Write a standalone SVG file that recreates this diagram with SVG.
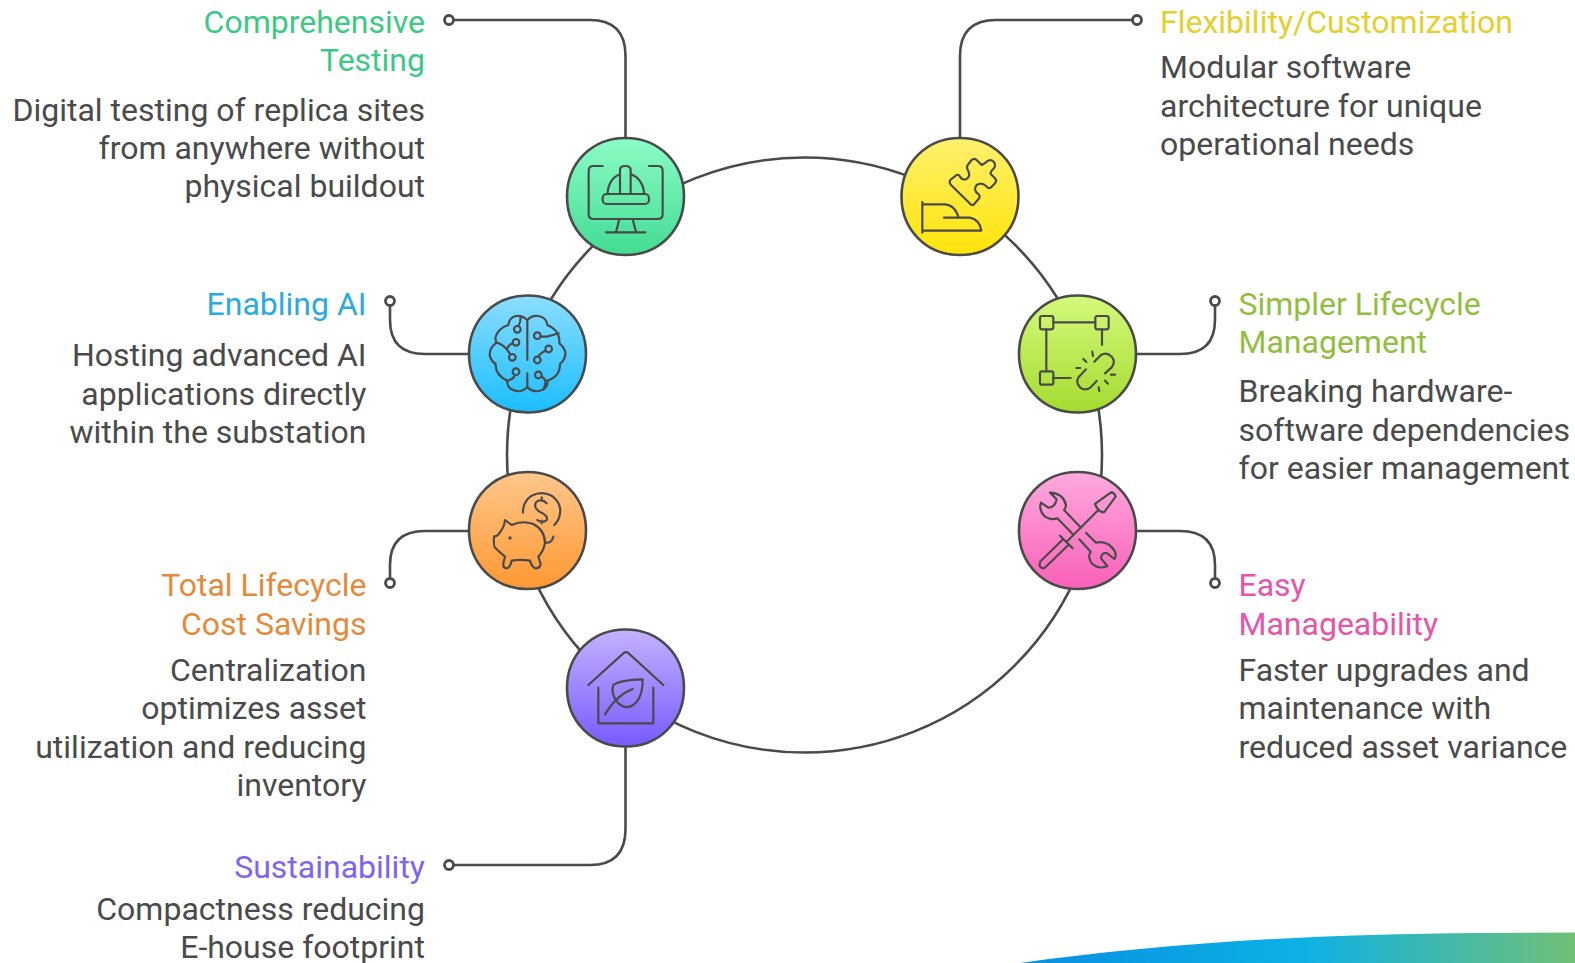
<svg xmlns="http://www.w3.org/2000/svg" width="1575" height="963" viewBox="0 0 1575 963">
<style>
text{font-family:Roboto,"Liberation Sans",sans-serif;font-size:32px;fill:#4a4a4a}
.e{text-anchor:end}
.c{fill:none;stroke:#4a4a4a;stroke-width:2.6}
.d{fill:#fff;stroke:#4a4a4a;stroke-width:2.8}
.n{stroke:#4a4a4a;stroke-width:2.6}
.i{fill:none;stroke:#4a4a4a;stroke-width:6.500;stroke-linecap:round;stroke-linejoin:round}
</style>
<defs>
<linearGradient id="g1" x1="0" y1="0" x2="0" y2="1"><stop offset="0" stop-color="#8cfcc6"/><stop offset="1" stop-color="#42dc92"/></linearGradient>
<linearGradient id="g2" x1="0" y1="0" x2="0" y2="1"><stop offset="0" stop-color="#fff06e"/><stop offset="1" stop-color="#ffe408"/></linearGradient>
<linearGradient id="g3" x1="0" y1="0" x2="0" y2="1"><stop offset="0" stop-color="#8cdeff"/><stop offset="1" stop-color="#1abdff"/></linearGradient>
<linearGradient id="g4" x1="0" y1="0" x2="0" y2="1"><stop offset="0" stop-color="#d4fa7c"/><stop offset="1" stop-color="#a5db30"/></linearGradient>
<linearGradient id="g5" x1="0" y1="0" x2="0" y2="1"><stop offset="0" stop-color="#ffc78c"/><stop offset="1" stop-color="#ff9832"/></linearGradient>
<linearGradient id="g6" x1="0" y1="0" x2="0" y2="1"><stop offset="0" stop-color="#ffaade"/><stop offset="1" stop-color="#f960b8"/></linearGradient>
<linearGradient id="g7" x1="0" y1="0" x2="0" y2="1"><stop offset="0" stop-color="#c4b2ff"/><stop offset="1" stop-color="#785aff"/></linearGradient>
<linearGradient id="sw" x1="0" y1="0" x2="1" y2="0"><stop offset="0" stop-color="#0a8fe0"/><stop offset=".5" stop-color="#0cb0e6"/><stop offset="1" stop-color="#70c076"/></linearGradient>
<path id="blob" d="M0-58.500C33.500-58.500 58.500-33.500 58.500 0S33.500 58.500 0 58.500-58.500 33.500-58.500 0-33.500-58.500 0-58.500Z"/>
</defs>
<rect width="1575" height="963" fill="#fff"/>
<path id="swoosh" d="M1020 963C1150 945 1300 934 1480 933L1575 932.500V963Z" fill="url(#sw)"/>
<g id="connectors">
<circle class="c" cx="804.500" cy="455" r="297.500"/>
<path class="c" d="M449 20H590Q625.500 20 625.500 56V137"/>
<path class="c" d="M1137 20H996Q960 20 960 56V137"/>
<path class="c" d="M390 301V320Q390 354 425 354H468"/>
<path class="c" d="M1215 301V320Q1215 354 1180 354H1137"/>
<path class="c" d="M390 583V565Q390 531 425 531H468"/>
<path class="c" d="M1215 583V565Q1215 531 1180 531H1137"/>
<path class="c" d="M449 865H590Q625.500 865 625.500 829V747"/>
<circle class="d" cx="449" cy="20" r="4.500"/>
<circle class="d" cx="1137" cy="20" r="4.500"/>
<circle class="d" cx="390" cy="301" r="4.500"/>
<circle class="d" cx="1215" cy="301" r="4.500"/>
<circle class="d" cx="390" cy="583" r="4.500"/>
<circle class="d" cx="1215" cy="583" r="4.500"/>
<circle class="d" cx="449" cy="865" r="4.500"/>
</g>
<g id="node-testing">
<use href="#blob" x="625.500" y="196.500" class="n" fill="url(#g1)"/>
<g class="i" transform="translate(540 120) scale(.3333)">
<path d="M188 138H160Q146 138 146 152V283Q146 297 160 297H354Q368 297 368 283V152Q368 138 354 138H327"/>
<path d="M238 297L228 337M278 297L288 337M198 337H316"/>
<rect x="188" y="222" width="139" height="30" rx="12"/>
<path d="M203 222C203 190 220 170 240 163M273 163C293 170 312 190 312 222"/>
<path d="M240 222V150Q240 138 256 138Q272 138 272 150V222"/>
</g>
<text class="e" x="425" y="33" style="fill:#3cc985">Comprehensive</text>
<text class="e" x="425" y="71" style="fill:#3cc985">Testing</text>
<text class="e" x="425" y="121">Digital testing of replica sites</text>
<text class="e" x="425" y="159">from anywhere without</text>
<text class="e" x="425" y="197">physical buildout</text>
</g>
<g id="node-flexibility">
<use href="#blob" x="960" y="196.500" class="n" fill="url(#g2)"/>
<g class="i" transform="translate(880 120) scale(.3333)">
<path d="M272 253L213 195Q205 186 213 178L230 165Q237 162 240 170Q247 182 260 177Q272 168 265 153Q258 143 263 135L275 120Q282 113 290 120L305 135Q315 130 320 125Q333 115 343 128Q350 140 335 152Q330 158 333 163L345 175Q352 182 345 190L332 203Q325 208 318 198Q305 185 290 195Q278 210 295 222Q303 230 295 238L282 253Q277 257 272 253Z"/>
<path d="M127 246V338M127 253H195Q225 255 236 293M192 293H270Q300 300 304 332H127"/>
</g>
<text x="1160" y="33" style="fill:#e3cf2e">Flexibility/Customization</text>
<text x="1160" y="78">Modular software</text>
<text x="1160" y="117">architecture for unique</text>
<text x="1160" y="155">operational needs</text>
</g>
<g id="node-ai">
<use href="#blob" x="527.500" y="354" class="n" fill="url(#g3)"/>
<g class="i" transform="translate(450 280) scale(.3333)">
<path d="M232 120Q215 105 198 108Q178 112 175 135Q145 145 137 170Q135 180 140 188Q115 205 120 230Q125 245 137 252Q135 285 172 302Q170 320 185 328Q210 342 232 322Q255 342 280 328Q295 318 292 302Q330 290 330 252Q350 235 345 212Q340 198 328 190Q330 165 315 150Q305 140 292 135Q290 112 265 108Q245 105 232 120Z"/>
<path d="M232 120V240M232 280V322M205 138Q212 128 212 112M180 222Q165 195 138 187M188 190Q175 195 172 205M195 285Q190 298 172 302M272 170H290Q310 165 326 160M286 212Q270 220 265 230M275 290Q295 300 280 328"/>
<circle cx="202" cy="148" r="10"/><circle cx="198" cy="187" r="10"/><circle cx="187" cy="232" r="10"/><circle cx="198" cy="275" r="10"/><circle cx="262" cy="167" r="10"/><circle cx="296" cy="207" r="10"/><circle cx="262" cy="240" r="10"/><circle cx="265" cy="285" r="10"/>
</g>
<text class="e" x="366.500" y="315" style="fill:#2babdd">Enabling AI</text>
<text class="e" x="366.500" y="366">Hosting advanced AI</text>
<text class="e" x="366.500" y="405">applications directly</text>
<text class="e" x="366.500" y="443">within the substation</text>
</g>
<g id="node-lifecycle">
<use href="#blob" x="1077.500" y="354" class="n" fill="url(#g4)"/>
<g class="i" transform="translate(1000 280) scale(.3333)">
<rect x="120" y="108" width="40" height="40" rx="6"/><rect x="286" y="108" width="40" height="40" rx="6"/><rect x="120" y="274" width="40" height="40" rx="6"/>
<path d="M160 127H286M139 148V274M160 294H212M306 148V195"/>
<path d="M283 245L303 225Q320 215 335 230Q348 245 335 262L315 280M258 268L237 290Q225 305 240 322Q255 335 272 322L290 303"/>
<path d="M277 215L279 228M250 237L259 246M229 264H241M333 284H345M315 302L324 311M296 322L298 333"/>
</g>
<text x="1238.500" y="315" style="fill:#92be3f">Simpler Lifecycle</text>
<text x="1238.500" y="353" style="fill:#92be3f">Management</text>
<text x="1238.500" y="402">Breaking hardware-</text>
<text x="1238.500" y="441">software dependencies</text>
<text x="1238.500" y="479">for easier management</text>
</g>
<g id="node-savings">
<use href="#blob" x="527.500" y="530.500" class="n" fill="url(#g5)"/>
<g class="i" transform="translate(450 460) scale(.3333)">
<path d="M219 158Q218 125 245 107Q275 92 305 107Q335 130 330 160Q328 180 313 195"/>
<path d="M290 130Q280 118 265 122Q250 130 258 145Q265 155 278 160Q295 170 290 180Q278 192 262 180M275 112V122M275 182V190"/>
<path d="M165 180L185 195Q215 180 250 192Q285 210 285 250Q280 275 265 290L272 312Q270 325 255 325Q245 320 240 302Q210 297 185 302Q180 325 168 325Q158 322 160 310L165 290Q150 278 137 265Q130 262 132 230Q145 228 153 212Q163 200 165 180Z"/>
<path d="M287 248Q305 250 310 230"/>
<circle cx="180" cy="234" r="2"/>
</g>
<text class="e" x="366.500" y="596" style="fill:#e38a3b">Total Lifecycle</text>
<text class="e" x="366.500" y="635" style="fill:#e38a3b">Cost Savings</text>
<text class="e" x="366.500" y="681">Centralization</text>
<text class="e" x="366.500" y="719">optimizes asset</text>
<text class="e" x="366.500" y="758">utilization and reducing</text>
<text class="e" x="366.500" y="796">inventory</text>
</g>
<g id="node-manageability">
<use href="#blob" x="1077.500" y="530.500" class="n" fill="url(#g6)"/>
<g class="i" transform="translate(1000 460) scale(.3333)">
<path d="M120 305L190 237M120 310Q115 320 128 325Q135 325 140 318L205 255M180 227L218 265M200 245L295 150"/>
<path d="M285 132L333 97Q343 97 347 110L312 157Q295 158 285 132Z"/>
<path d="M150 98L170 118Q165 143 145 143L123 128Q115 150 135 170Q155 182 172 175L218 222M150 98Q190 100 198 135Q197 145 192 150L243 203"/>
<path d="M258 218L288 248Q325 240 345 275Q350 290 343 297L322 280Q305 275 303 295L322 318Q295 330 275 310Q262 290 272 275L238 238"/>
</g>
<text x="1238.500" y="596" style="fill:#e455ab">Easy</text>
<text x="1238.500" y="635" style="fill:#e455ab">Manageability</text>
<text x="1238.500" y="681">Faster upgrades and</text>
<text x="1238.500" y="719">maintenance with</text>
<text x="1238.500" y="758">reduced asset variance</text>
</g>
<g id="node-sustainability">
<use href="#blob" x="625.500" y="688" class="n" fill="url(#g7)"/>
<g class="i" transform="translate(550 615) scale(.3333)">
<path d="M115 210L220 115Q228 108 236 115L340 210M145 218V325H310V218"/>
<path d="M278 193Q278 250 250 270Q225 285 205 265Q180 235 190 210Q210 195 278 193Z"/>
<path d="M165 298Q200 240 248 222"/>
</g>
<text class="e" x="425" y="878" style="fill:#7e64f0">Sustainability</text>
<text class="e" x="425" y="920">Compactness reducing</text>
<text class="e" x="425" y="958">E-house footprint</text>
</g>
</svg>
